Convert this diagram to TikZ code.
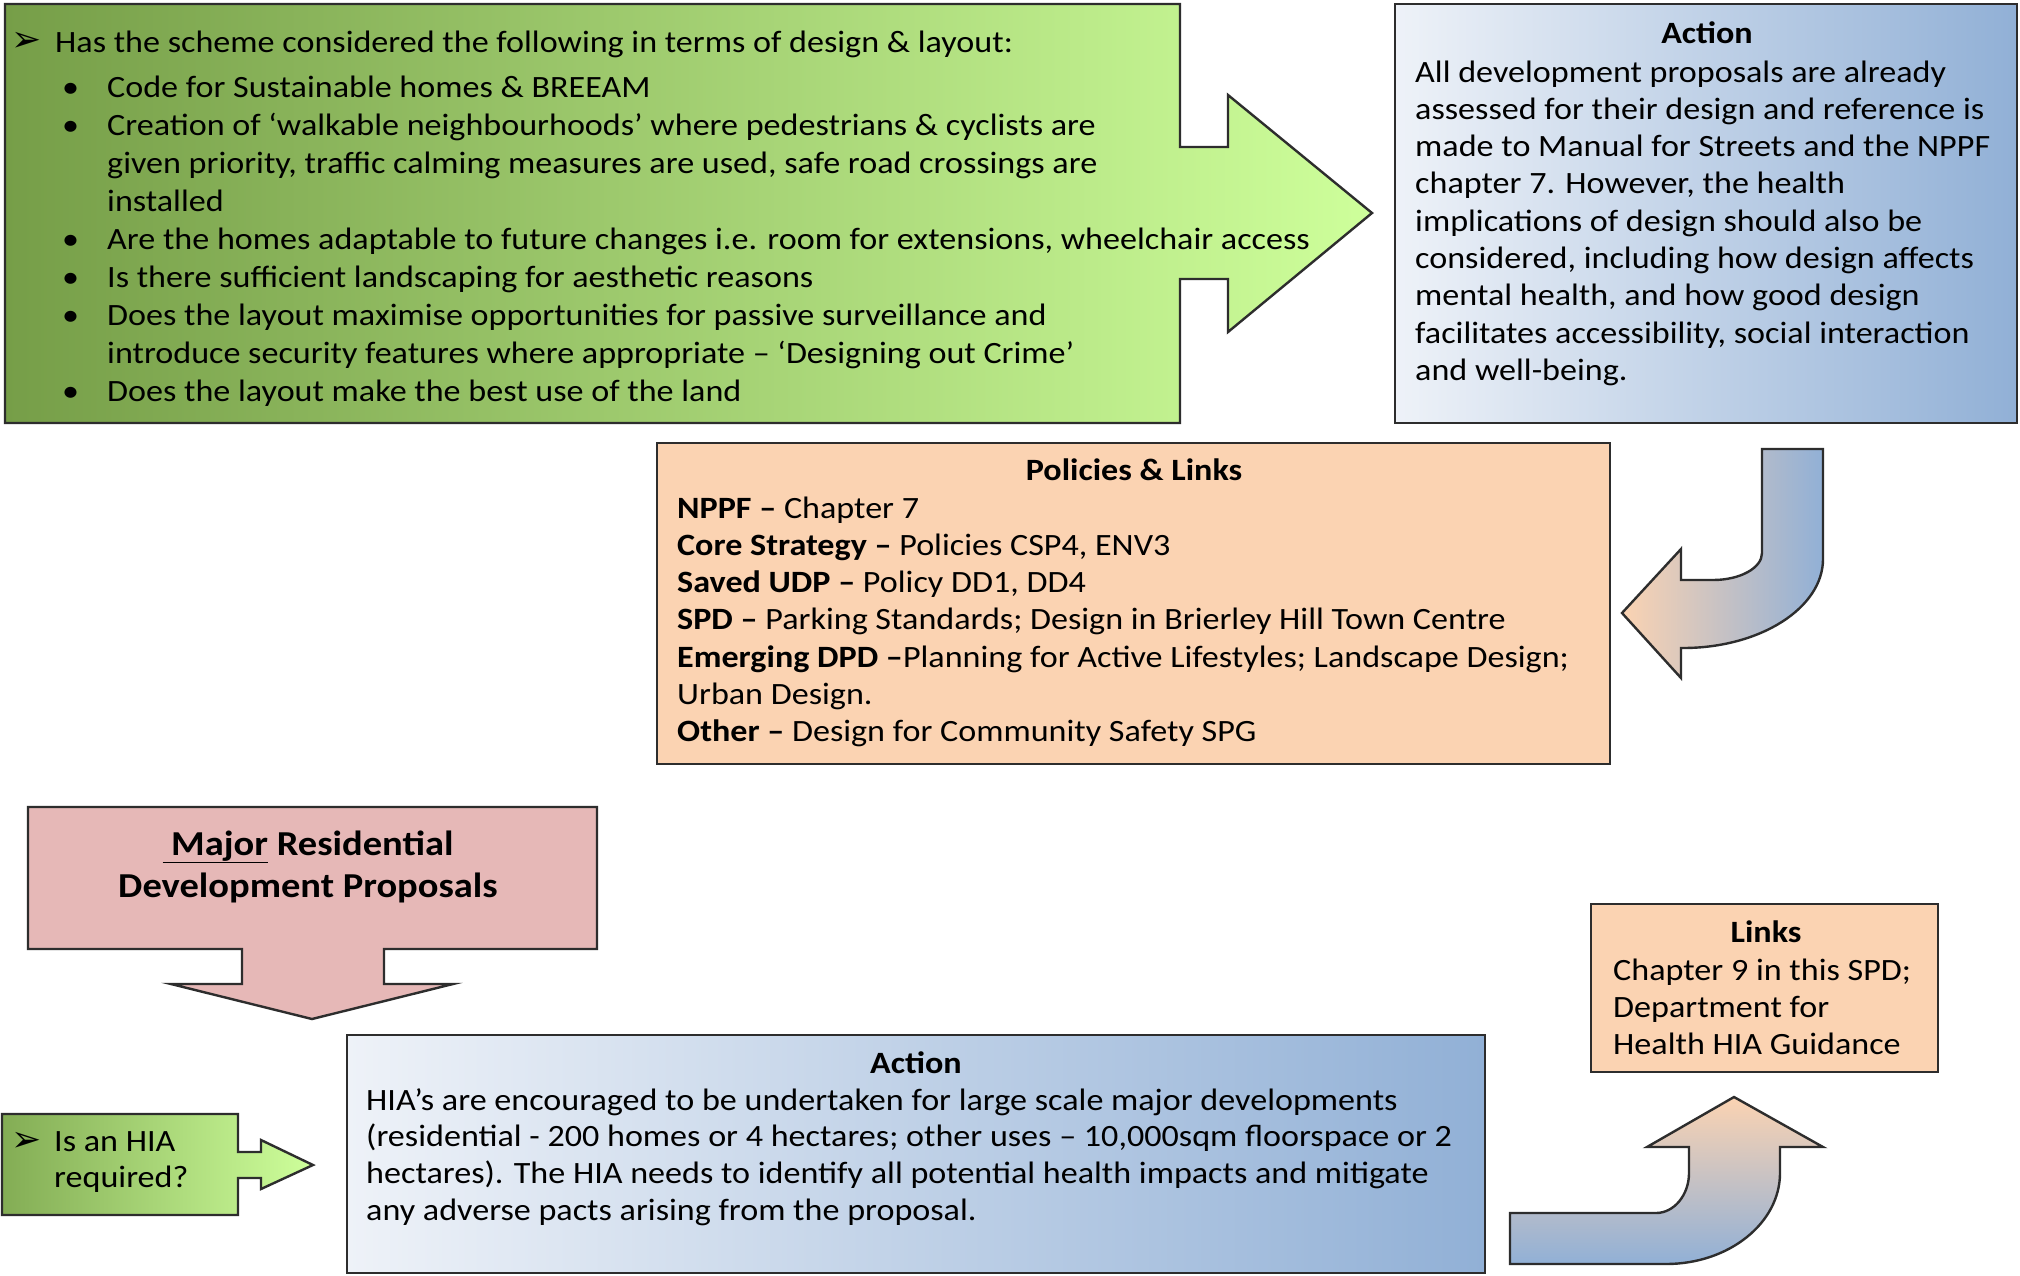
\documentclass[tikz,border=0pt]{standalone}
\usepackage{fontspec}
\setmainfont{Carlito}[FakeStretch=1.1]
\newfontfamily\symfont{DejaVu Sans}
\usetikzlibrary{calc}
\definecolor{edgegray}{RGB}{45,45,45}
\definecolor{grdark}{RGB}{118,158,72}
\definecolor{grlight}{RGB}{206,255,155}
\definecolor{bllight}{RGB}{238,242,248}
\definecolor{blmid}{RGB}{145,176,214}
\definecolor{peach}{RGB}{251,211,178}
\definecolor{pinkbox}{RGB}{230,184,183}
% lines of a text block, baseline on the first line
\newcommand{\leftlines}[1]{\begin{tabular}[t]{@{}l@{}}#1\end{tabular}}
\newcommand{\midlines}[1]{\begin{tabular}[t]{@{}c@{}}#1\end{tabular}}

\begin{document}
\begin{tikzpicture}[x=1pt,y=-1pt,
  edge/.style={draw=edgegray,line width=2.4pt,line join=miter},
  greenfill/.style={edge,left color=grdark,right color=grlight},
  bluefill/.style={edge,left color=bllight,right color=blmid},
  peachfill/.style={edge,fill=peach},
  pinkfill/.style={edge,fill=pinkbox},
  box/.style={anchor=north west,inner sep=0pt,outer sep=0pt},
  txt/.style={inner sep=0pt,anchor=base west,font=\fontsize{31}{37.3}\selectfont},
  head/.style={inner sep=0pt,anchor=base,font=\fontsize{31}{37.3}\selectfont\bfseries}]
\useasboundingbox[fill=white] (0,0) rectangle (2020,1275);
% design & layout callout
\draw[greenfill] (5,4) -- (1180,4) -- (1180,147) -- (1228,147) -- (1228,95) -- (1372,213)
  -- (1228,332) -- (1228,279) -- (1180,279) -- (1180,423) -- (5,423) -- cycle;
\node[txt] (gMark) at (11,51) {\symfont\fontsize{36}{36}\selectfont ➢};
\node[txt] (gHead) at (55,52) {Has the scheme considered the following in terms of design \& layout:};
\node[txt,font=\fontsize{31}{38}\selectfont] (gList) at (62,97) {%
  \begin{tabular}[t]{@{}p{45pt}@{}l@{}}
  \textbullet & Code for Sustainable homes \& BREEAM\\
  \textbullet & Creation of ‘walkable neighbourhoods’ where pedestrians \& cyclists are\\
   & given priority, traffic calming measures are used, safe road crossings are\\
   & installed\\
  \textbullet & Are the homes adaptable to future changes i.e. room for extensions, wheelchair access\\
  \textbullet & Is there sufficient landscaping for aesthetic reasons\\
  \textbullet & Does the layout maximise opportunities for passive surveillance and\\
   & introduce security features where appropriate – ‘Designing out Crime’\\
  \textbullet & Does the layout make the best use of the land
  \end{tabular}};
% action (design)
\node[box,bluefill,minimum width=622pt,minimum height=419pt] (actTop) at (1395,4) {};
\node[head] (actTopTitle) at (1707,43) {Action};
\node[txt] (actTopBody) at (1415,82) {\leftlines{All development proposals are already\\
  assessed for their design and reference is\\
  made to Manual for Streets and the NPPF\\
  chapter 7. However, the health\\
  implications of design should also be\\
  considered, including how design affects\\
  mental health, and how good design\\
  facilitates accessibility, social interaction\\
  and well-being.}};
% u-turn back to policies
\draw[edge,left color=peach,right color=blmid] (1762,449) -- (1823,449) -- (1823,559)
  .. controls (1823,608) and (1760,648) .. (1683,648) -- (1681,648) -- (1681,678)
  -- (1622,613) -- (1681,549) -- (1681,580) -- (1713,580)
  .. controls (1740,580) and (1762,568) .. (1762,553) -- cycle;
% policies & links
\node[box,peachfill,minimum width=953pt,minimum height=321pt] (pol) at (657,443) {};
\node[head] (polTitle) at (1134,480) {Policies \& Links};
\node[txt] (polBody) at (677,518) {\leftlines{\textbf{NPPF –} Chapter 7\\
  \textbf{Core Strategy –} Policies CSP4, ENV3\\
  \textbf{Saved UDP –} Policy DD1, DD4\\
  \textbf{SPD –} Parking Standards; Design in Brierley Hill Town Centre\\
  \textbf{Emerging DPD –}Planning for Active Lifestyles; Landscape Design;\\
  Urban Design.\\
  \textbf{Other –} Design for Community Safety SPG}};
% major residential proposals
\draw[pinkfill] (28,807) -- (597,807) -- (597,949) -- (384,949) -- (384,984) -- (453,984)
  -- (312,1019) -- (171,984) -- (242,984) -- (242,949) -- (28,949) -- cycle;
\node[inner sep=0pt,anchor=base,font=\fontsize{35}{42}\selectfont\bfseries]
  (major) at (308,855) {\midlines{\underline{\ Major} Residential\\Development Proposals}};
% HIA question
\draw[edge,left color=grdark!85!grlight,right color=grlight] (2,1114) -- (238,1114) -- (238,1152)
  -- (261,1152) -- (261,1140) -- (313,1165) -- (261,1189) -- (261,1178) -- (238,1178)
  -- (238,1215) -- (2,1215) -- cycle;
\node[txt] (hMark) at (11,1151) {\symfont\fontsize{36}{36}\selectfont ➢};
\node[txt,font=\fontsize{31}{36}\selectfont] (hQ) at (54,1151) {\leftlines{Is an HIA\\required?}};
% action (HIA)
\node[box,bluefill,minimum width=1138pt,minimum height=238pt] (actBot) at (347,1035) {};
\node[head] (actBotTitle) at (916,1073) {Action};
\node[txt,font=\fontsize{31}{36.7}\selectfont] (actBotBody) at (366,1110) {\leftlines{HIA’s are encouraged to be undertaken for large scale major developments\\
  (residential - 200 homes or 4 hectares; other uses – 10,000sqm floorspace or 2\\
  hectares). The HIA needs to identify all potential health impacts and mitigate\\
  any adverse pacts arising from the proposal.}};
% turn up to links
\draw[edge,top color=peach,bottom color=blmid] (1510,1213) -- (1510,1264) -- (1666,1264)
  .. controls (1729,1264) and (1780,1223) .. (1780,1173) -- (1780,1147) -- (1823,1147)
  -- (1734,1097) -- (1647,1147) -- (1689,1147) -- (1689,1173)
  .. controls (1689,1195) and (1674,1213) .. (1656,1213) -- cycle;
% links
\node[box,peachfill,minimum width=347pt,minimum height=168pt] (links) at (1591,904) {};
\node[head] (linksTitle) at (1766,942) {Links};
\node[txt,font=\fontsize{31}{37}\selectfont] (linksBody) at (1613,980) {\leftlines{Chapter 9 in this SPD;\\
  Department for\\
  Health HIA Guidance}};
\end{tikzpicture}
\end{document}
